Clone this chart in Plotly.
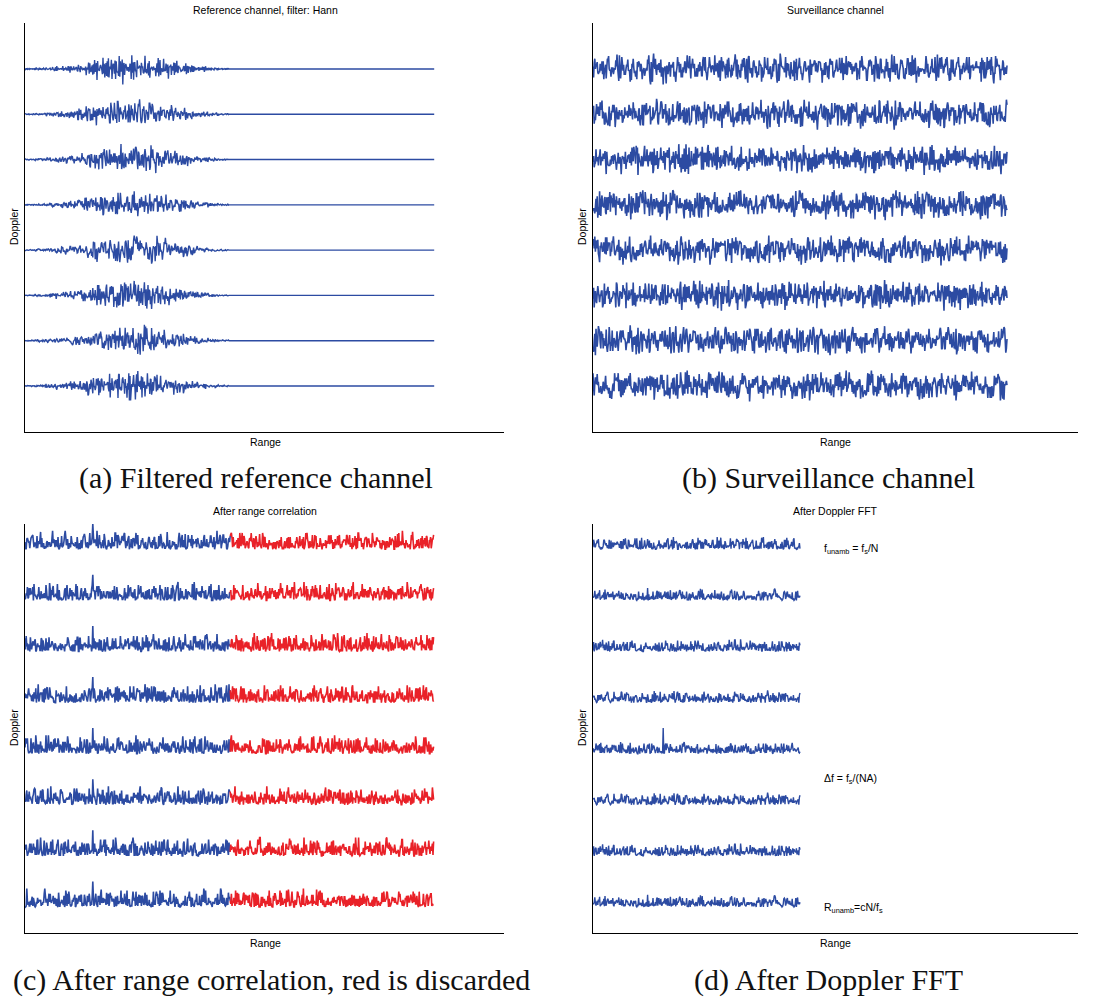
import plotly.graph_objects as go

W, H = 1103, 1001
BLUE = "#2c4ba2"
RED = "#e92128"
TEXT_FONT = "Liberation Sans"
CAPTION_FONT = "Liberation Serif"

# Hand-tabulated noise samples (integer levels, -9..9); two tables of
# different lengths are summed so that rows do not visibly repeat
NOISE = [
    3, -7, 5, 1, -4, 8, -2, -9, 6, 0, -3, 7, -6, 2, 9, -1, -8, 4, -5, 3,
    6, -2, -7, 1, 8, -4, 0, 5, -9, 2, -3, 7, 4, -6, -1, 9, -5, 3, -8, 6,
    1, -4, 7, -2, -6, 5, 8, -3, 0, -7, 4, 2, -9, 6, -1, 3, -5, 9, -4, 1,
    7, -8, 2, 5, -3, -6, 0, 8, -2, 4, -7, 6, 1, -5, 3, -9, 7, -1, 2, -4,
    5, 8, -6, 0, -3, 9, -2, 4, -8, 1, 6, -5, -1, 7, -7, 3, 2, -4, 8, -9,
    0, 5, -3, 6, -6, 1, 4, -2, 9, -8, 3, -1, 7, -5, 2, -7, 8, 0, -4, 5,
    -9, 6, 1, -3, 4, -6, 7, -2, 3, -8, 9, -1, 5, -4, 0, 2, -7, 6, -5, 8,
    -3, 1, -9, 4, 7, -6, 2, -1, 5, -2, 8, -7, 3, 0, -5, 6, -4, 9, -8, 1,
    4, -3, 6, -9, 2, 7, -1, -5, 8, -6, 3, 0, -2, 5, -7, 9, 1, -4, 6, -3,
    2, -8, 7, -1, 4, -5, 0, 9, -6, 3, -2, 8, -4, 1, 5, -7, 6, -9, 2, -1,
    7, -3, 4, -8, 5, 0, -6, 9, -2, 3, -5,
]
NOISE2 = [
    -4, 6, -1, 8, -7, 2, 5, -9, 3, 0, -6, 7, -2, 9, -5, 1, 4, -8, 6, -3,
    2, -7, 9, -1, 5, -4, 0, 8, -6, 3, -9, 1, 7, -2, 4, -5, 6, -8, 2, 9,
    -3, 5, -7, 0, 8, -1, -4, 3, -6, 7, -2, 1, -9,
]
NOISE_MAX = 18.0

# Doppler rows, top to bottom
ROW_LEVELS = [8, 7, 6, 5, 4, 3, 2, 1]

# range step between samples (one axis unit = one screen pixel)
STEP = 0.6

# (a) reference channel weighted by a Hann filter (amplitude per block of samples)
HANN_ENV = [0.04, 0.08, 0.14, 0.22, 0.32, 0.45, 0.58, 0.72, 0.85, 0.95,
            1.0, 0.97, 0.88, 0.75, 0.6, 0.45, 0.32, 0.2, 0.11, 0.05]
HANN_BLOCK = 17
A_SAMPLES = 683
A_PEAK = 0.36
A_PICKS = [(1, 0, 1, 3), (3, 17, 2, 11), (5, 40, 3, 19), (7, 63, 4, 27),
           (11, 88, 5, 35), (13, 120, 6, 43), (17, 150, 7, 51), (19, 190, 8, 7)]

# (b) surveillance channel
B_SAMPLES = 691
B_PEAK = 0.34
B_PICKS = [(2, 5, 9, 14), (4, 33, 10, 22), (6, 71, 11, 30), (8, 99, 12, 38),
           (9, 130, 13, 46), (12, 161, 14, 2), (14, 183, 15, 10), (16, 207, 16, 18)]

# (c) after range correlation: blue kept, red discarded
C_SAMPLES = 682
C_SPLIT = 342
C_PEAK = 0.36
C_SPIKE_AT = 113
C_SPIKE = 0.5
C_PICKS = [(23, 11, 17, 26), (29, 47, 18, 34), (31, 82, 19, 42), (37, 115, 20, 50),
           (41, 141, 21, 6), (43, 170, 22, 15), (47, 8, 23, 24), (53, 59, 24, 33)]

# (d) after Doppler FFT: rows 6-8 repeat rows 4, 3, 2
D_SAMPLES = 346
D_PEAK = 0.24
D_SPIKE_ROW = 4
D_SPIKE_AT = 117
D_SPIKE = 0.5
D_PICKS = [(59, 21, 25, 41), (61, 77, 26, 49), (67, 133, 27, 5), (71, 159, 28, 13),
           (73, 34, 29, 21)]
D_ROW_SOURCE = [0, 1, 2, 3, 4, 3, 2, 1]


def pick(n, s1, o1, s2, o2):
    n1, n2 = len(NOISE), len(NOISE2)
    return [(NOISE[(o1 + i * s1) % n1] + NOISE2[(o2 + i * s2) % n2]) / NOISE_MAX
            for i in range(n)]


def px_x(p):
    return p / W


def px_y(p):
    return 1 - p / H


def ranges(n):
    return [i * STEP for i in range(n)]


fig = go.Figure()


def add_line(xs, ys, color, xa, ya, width=1.6):
    fig.add_trace(go.Scatter(x=xs, y=ys, mode="lines",
                             line=dict(color=color, width=width, simplify=False),
                             xaxis=xa, yaxis=ya))


# (a)
for level, p in zip(ROW_LEVELS, A_PICKS):
    raw = pick(A_SAMPLES, *p)
    env = []
    for e in HANN_ENV:
        env += [e] * HANN_BLOCK
    env += [0.0] * (A_SAMPLES - len(env))
    ys = [level + A_PEAK * r * w for r, w in zip(raw, env)]
    add_line(ranges(A_SAMPLES), ys, BLUE, "x", "y", 1.4)

# (b)
for level, p in zip(ROW_LEVELS, B_PICKS):
    ys = [level + B_PEAK * r for r in pick(B_SAMPLES, *p)]
    add_line(ranges(B_SAMPLES), ys, BLUE, "x2", "y2")

# (c)
for level, p in zip(ROW_LEVELS, C_PICKS):
    mag = [abs(r) * C_PEAK for r in pick(C_SAMPLES, *p)]
    mag[C_SPIKE_AT] = C_SPIKE
    ys = [level + m for m in mag]
    xs = ranges(C_SAMPLES)
    add_line(xs[:C_SPLIT + 1], ys[:C_SPLIT + 1], BLUE, "x3", "y3")
    add_line(xs[C_SPLIT:], ys[C_SPLIT:], RED, "x3", "y3")

# (d)
d_rows = [[abs(r) * D_PEAK for r in pick(D_SAMPLES, *p)] for p in D_PICKS]
d_rows[D_SPIKE_ROW][D_SPIKE_AT] = D_SPIKE
for level, src in zip(ROW_LEVELS, D_ROW_SOURCE):
    add_line(ranges(D_SAMPLES), [level + m for m in d_rows[src]], BLUE, "x4", "y4", 1.4)

axis_common = dict(showline=True, linecolor="black", linewidth=1.2, mirror=False,
                   showticklabels=False, ticks="", showgrid=False, zeroline=False,
                   fixedrange=True)

LEFT_DOM = [px_x(25), px_x(504)]
RIGHT_DOM = [px_x(593), px_x(1078)]
TOP_DOM = [px_y(432), px_y(23)]
BOT_DOM = [px_y(933), px_y(524)]

fig.update_layout(
    width=W, height=H,
    margin=dict(l=0, r=0, t=0, b=0),
    paper_bgcolor="white", plot_bgcolor="white",
    showlegend=False, hovermode=False,
    xaxis=dict(domain=LEFT_DOM, range=[0, 479], anchor="y", **axis_common),
    yaxis=dict(domain=TOP_DOM, range=[-0.016, 9.015], anchor="x", **axis_common),
    xaxis2=dict(domain=RIGHT_DOM, range=[0, 485], anchor="y2", **axis_common),
    yaxis2=dict(domain=TOP_DOM, range=[-0.016, 9.015], anchor="x2", **axis_common),
    xaxis3=dict(domain=LEFT_DOM, range=[0, 479], anchor="y3", **axis_common),
    yaxis3=dict(domain=BOT_DOM, range=[0.491, 8.495], anchor="x3", **axis_common),
    xaxis4=dict(domain=RIGHT_DOM, range=[0, 485], anchor="y4", **axis_common),
    yaxis4=dict(domain=BOT_DOM, range=[0.491, 8.495], anchor="x4", **axis_common),
)

small = dict(family=TEXT_FONT, size=10.5, color="black")
cap = dict(family=CAPTION_FONT, size=30, color="#111111")


def note(text, x, y, font, xanchor="center", angle=0):
    fig.add_annotation(text=text, x=px_x(x), y=px_y(y), xref="paper", yref="paper",
                       showarrow=False, font=font, xanchor=xanchor, yanchor="middle",
                       textangle=angle)


# panel titles
note("Reference channel, filter: Hann", 265, 10, small)
note("Surveillance channel", 835, 10, small)
note("After range correlation", 265, 511, small)
note("After Doppler FFT", 835, 511, small)

# axis labels
for x in (265, 835):
    note("Range", x, 442, small)
    note("Range", x, 943, small)
for x in (14, 582):
    note("Doppler", x, 227, small, angle=-90)
    note("Doppler", x, 728, small, angle=-90)

# formulas next to the Doppler spectrum
note("f<sub>unamb</sub> = f<sub>s</sub>/N", 822, 549, small, xanchor="left")
note("Δf = f<sub>s</sub>/(NA)", 822, 779, small, xanchor="left")
note("R<sub>unamb</sub>=cN/f<sub>s</sub>", 822, 908, small, xanchor="left")

# captions
note("(a) Filtered reference channel", 256, 478, cap)
note("(b) Surveillance channel", 828, 478, cap)
note("(c) After range correlation, red is discarded", 271, 980, cap)
note("(d) After Doppler FFT", 828, 980, cap)

fig.write_html("out.html")
